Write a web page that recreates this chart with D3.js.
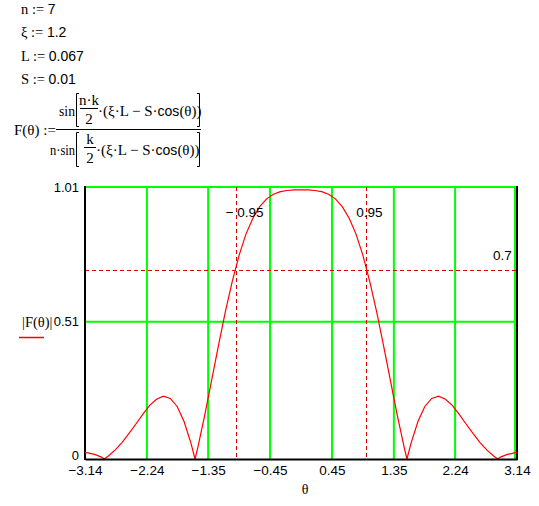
<!DOCTYPE html>
<html>
<head>
<meta charset="utf-8">
<script src="https://cdn.jsdelivr.net/npm/d3@7/dist/d3.min.js"></script>
<style>
  html, body { margin: 0; padding: 0; background: #fff; }
  svg { display: block; }
  .sans { font-family: "Liberation Sans Narrow", "Arial Narrow", "Liberation Sans", Arial, sans-serif; }
  .serif { font-family: "Liberation Serif", "Times New Roman", serif; }
</style>
</head>
<body>
<svg id="chart" width="539" height="506"></svg>
<script>
// ---------- data ----------
const thetaVals = [
  -3.14, -3.1, -3.0, -2.9, -2.86, -2.8, -2.7, -2.6, -2.5, -2.4, -2.3, -2.2, -2.1, -2.0,
  -1.9, -1.8, -1.7, -1.6, -1.54, -1.5, -1.4, -1.3, -1.2, -1.1, -1.0, -0.9, -0.8, -0.7,
  -0.6, -0.5, -0.4, -0.3, -0.2, -0.1, 0,
  0.1, 0.2, 0.3, 0.4, 0.5, 0.6, 0.7, 0.8, 0.9, 1.0, 1.1, 1.2, 1.3, 1.4, 1.5, 1.54,
  1.6, 1.7, 1.8, 1.9, 2.0, 2.1, 2.2, 2.3, 2.4, 2.5, 2.6, 2.7, 2.8, 2.86, 2.9, 3.0, 3.1, 3.14
];
const absFVals = [
  0.024, 0.023, 0.017, 0.007, 0.0, 0.011, 0.034, 0.062, 0.095, 0.130, 0.166, 0.199, 0.222, 0.233,
  0.225, 0.195, 0.139, 0.059, 0.0, 0.043, 0.162, 0.291, 0.421, 0.546, 0.659, 0.756, 0.835, 0.894,
  0.937, 0.966, 0.983, 0.993, 0.997, 0.999, 0.999,
  0.999, 0.997, 0.993, 0.983, 0.966, 0.937, 0.894, 0.835, 0.756, 0.659, 0.546, 0.421, 0.291, 0.162, 0.043, 0.0,
  0.059, 0.139, 0.195, 0.225, 0.233, 0.222, 0.199, 0.166, 0.130, 0.095, 0.062, 0.034, 0.011, 0.0, 0.007, 0.017, 0.023, 0.024
];
const xTicks = [-3.14, -2.24, -1.35, -0.45, 0.45, 1.35, 2.24, 3.14];
const xTickLabels = ["\u22123.14", "\u22122.24", "\u22121.35", "\u22120.45", "0.45", "1.35", "2.24", "3.14"];
const yTicks = [0, 0.51, 1.01];
const yTickLabels = ["0", "0.51", "1.01"];
const markerX = [-0.95, 0.95];
const markerXLabels = ["\u2212 0.95", "0.95"];
const markerY = [0.7];
const markerYLabels = ["0.7"];
const defs = [
  { name: "n", value: "7" },
  { name: "\u03be", value: "1.2" },
  { name: "L", value: "0.067" },
  { name: "S", value: "0.01" }
];

// ---------- layout ----------
const svg = d3.select("#chart");
svg.append("rect").attr("width", 539).attr("height", 506).attr("fill", "#fff");

const x = d3.scaleLinear().domain([-3.14, 3.14]).range([85, 517]);
const y = d3.scaleLinear().domain([0, 1.01]).range([459, 187]);

const GREEN = "#00ff00", RED = "#ff0000", DRED = "#dd0000";

// ---------- definitions text ----------
const defG = svg.append("g");
defs.forEach((d, i) => {
  const t = defG.append("text").attr("x", 21).attr("y", 14 + i * 23.4);
  t.append("tspan").attr("class", "serif").attr("font-size", 14.5).text(d.name + " := ");
  t.append("tspan").attr("class", "sans").attr("font-size", 14).text(d.value);
});

// ---------- formula ----------
const fG = svg.append("g").attr("class", "serif").attr("font-size", 15).attr("fill", "#000");
fG.append("text").attr("x", 14).attr("y", 135).text("F(\u03b8) :=");
fG.append("line").attr("x1", 56).attr("x2", 201).attr("y1", 129.5).attr("y2", 129.5).attr("stroke", "#000");
function bracketPair(top, bot) {
  fG.append("path").attr("d", `M79,${top}H76.5V${bot}H79`).attr("fill", "none").attr("stroke", "#000");
  fG.append("path").attr("d", `M197,${top}H199.5V${bot}H197`).attr("fill", "none").attr("stroke", "#000");
}
bracketPair(93.5, 126.5);
bracketPair(132.5, 166.5);
// numerator
fG.append("text").attr("x", 59).attr("y", 116).attr("font-size", 14)
  .attr("textLength", 16).attr("lengthAdjust", "spacingAndGlyphs").text("sin");
fG.append("text").attr("x", 89).attr("y", 105).attr("text-anchor", "middle").text("n\u00b7k");
fG.append("line").attr("x1", 80).attr("x2", 98).attr("y1", 108.5).attr("y2", 108.5).attr("stroke", "#000");
fG.append("text").attr("x", 89).attr("y", 124).attr("text-anchor", "middle").text("2");
const numT = fG.append("text").attr("x", 98).attr("y", 116);
numT.append("tspan").text("\u00b7(\u03be\u00b7L \u2212 S\u00b7");
numT.append("tspan").attr("class", "sans").attr("font-size", 14).text("cos");
numT.append("tspan").text("(\u03b8))");
// denominator
fG.append("text").attr("x", 50).attr("y", 155).attr("font-size", 14)
  .attr("textLength", 25).attr("lengthAdjust", "spacingAndGlyphs").text("n\u00b7sin");
fG.append("text").attr("x", 90).attr("y", 144).attr("text-anchor", "middle").text("k");
fG.append("line").attr("x1", 84).attr("x2", 96).attr("y1", 147.5).attr("y2", 147.5).attr("stroke", "#000");
fG.append("text").attr("x", 90).attr("y", 163).attr("text-anchor", "middle").text("2");
const denT = fG.append("text").attr("x", 96).attr("y", 155);
denT.append("tspan").text("\u00b7(\u03be\u00b7L \u2212 S\u00b7");
denT.append("tspan").attr("class", "sans").attr("font-size", 14).text("cos");
denT.append("tspan").text("(\u03b8))");

// ---------- grid ----------
const grid = svg.append("g");
xTicks.slice(1).forEach((t, i) => {
  const gx = i === xTicks.length - 2 ? x(t) - 2 : x(t);
  grid.append("line").attr("x1", gx).attr("x2", gx).attr("y1", y(1.01)).attr("y2", y(0))
    .attr("stroke", GREEN).attr("stroke-width", 2);
});
yTicks.slice(1).forEach(t => {
  grid.append("line").attr("x1", x(-3.14)).attr("x2", x(3.14)).attr("y1", y(t)).attr("y2", y(t))
    .attr("stroke", GREEN).attr("stroke-width", 2);
});

// ---------- markers ----------
markerY.forEach(v => {
  svg.append("line").attr("x1", x(-3.14)).attr("x2", x(3.14)).attr("y1", Math.round(y(v)) + 0.5).attr("y2", Math.round(y(v)) + 0.5)
    .attr("stroke", DRED).attr("stroke-dasharray", "4,3");
});
markerX.forEach(v => {
  svg.append("line").attr("x1", Math.round(x(v)) + 0.5).attr("x2", Math.round(x(v)) + 0.5).attr("y1", y(1.01)).attr("y2", y(0))
    .attr("stroke", DRED).attr("stroke-dasharray", "4,3");
});

// ---------- frame ----------
svg.append("line").attr("x1", x(-3.14)).attr("x2", x(-3.14)).attr("y1", y(1.01) - 1).attr("y2", y(0) + 1).attr("stroke", "#000").attr("stroke-width", 2);
svg.append("line").attr("x1", x(3.14)).attr("x2", x(3.14)).attr("y1", y(1.01) - 1).attr("y2", y(0) + 1).attr("stroke", "#000").attr("stroke-width", 2);

// ---------- curve ----------
const pts = thetaVals.map((t, i) => [t, absFVals[i]]);
svg.append("path").datum(pts)
  .attr("d", d3.line().x(d => x(d[0])).y(d => y(d[1])))
  .attr("fill", "none").attr("stroke", RED).attr("stroke-width", 1.2);

// ---------- axes ----------
const xAxis = svg.append("g").attr("transform", `translate(0,${y(0)})`)
  .call(d3.axisBottom(x).tickValues(xTicks).tickSize(0).tickPadding(6)
    .tickFormat((d, i) => xTickLabels[i]));
xAxis.select(".domain").attr("stroke", "#000").attr("stroke-width", 2);
xAxis.selectAll("text").attr("class", "sans").attr("font-size", 13.5).attr("fill", "#000");

const yAxis = svg.append("g").attr("transform", `translate(${x(-3.14)},0)`)
  .call(d3.axisLeft(y).tickValues(yTicks).tickSize(0).tickPadding(6)
    .tickFormat((d, i) => yTickLabels[i]));
yAxis.select(".domain").remove();
yAxis.selectAll("text").attr("class", "sans").attr("font-size", 13).attr("fill", "#000");
yAxis.selectAll(".tick").filter(d => d === 0).select("text").attr("dy", "0.05em");

// ---------- marker labels ----------
markerX.forEach((v, i) => {
  svg.append("text").attr("class", "sans").attr("font-size", 13.5)
    .attr("x", x(v) - 10).attr("y", 217).text(markerXLabels[i]);
});
markerY.forEach((v, i) => {
  svg.append("text").attr("class", "sans").attr("font-size", 13.5)
    .attr("x", 493).attr("y", y(v) - 10).text(markerYLabels[i]);
});

// ---------- axis titles ----------
svg.append("text").attr("class", "serif").attr("font-size", 14.5).attr("x", 22).attr("y", 327).text("|F(\u03b8)|");
svg.append("line").attr("x1", 19).attr("x2", 44).attr("y1", 337.5).attr("y2", 337.5).attr("stroke", RED).attr("stroke-width", 1.5);
svg.append("text").attr("class", "serif").attr("font-size", 14).attr("x", 305).attr("y", 494).attr("text-anchor", "middle").text("\u03b8");
</script>
</body>
</html>
